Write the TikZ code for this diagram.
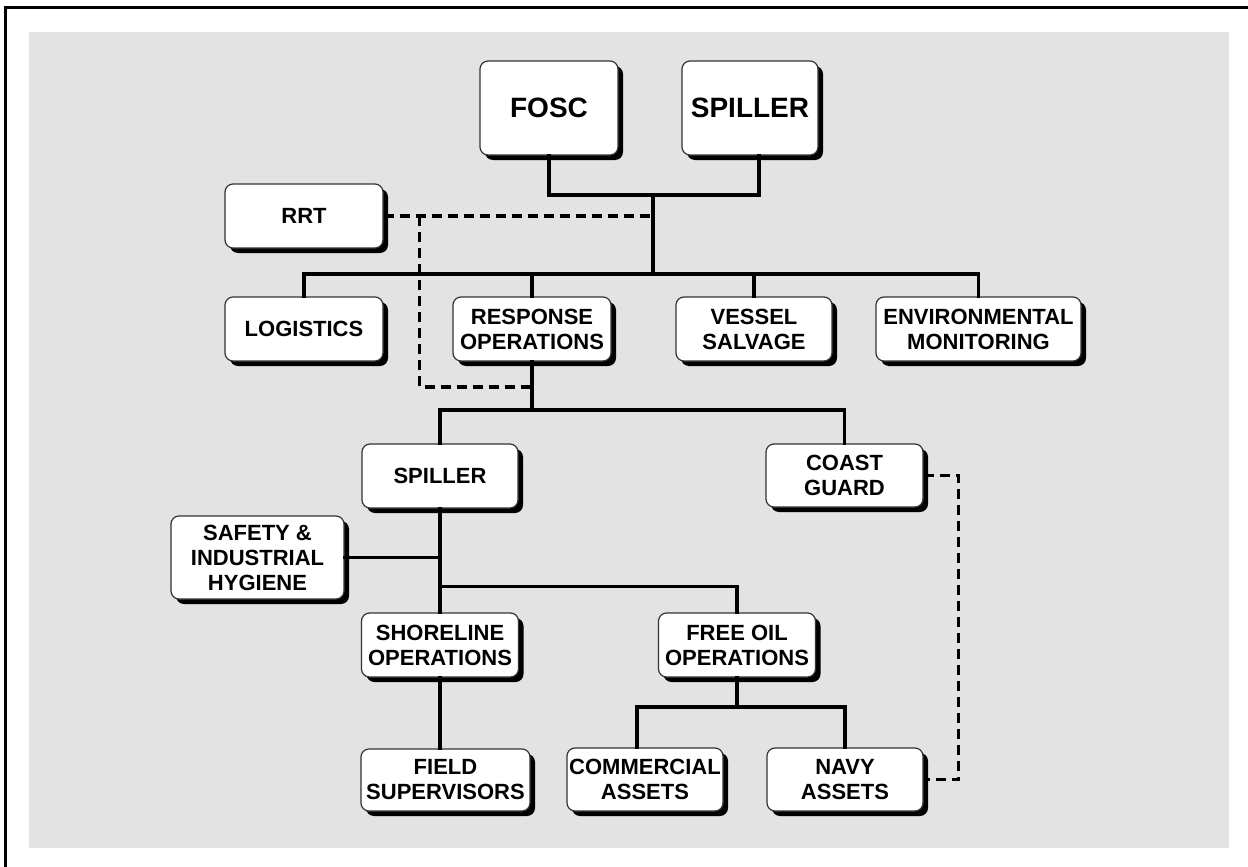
\documentclass[tikz,border=0pt]{standalone}
\usepackage{fontspec}
\setmainfont{Liberation Sans}
\usetikzlibrary{shadows}
\definecolor{bggray}{HTML}{E3E3E3}
\begin{document}
\begin{tikzpicture}[x=1pt,y=-1pt,
  box/.style={draw=black!80, line width=1.2pt, fill=white, rounded corners=8pt,
    align=center, inner sep=1pt, font=\bfseries\fontsize{22}{25}\selectfont,
    drop shadow={shadow xshift=5pt, shadow yshift=-5pt, fill=black, opacity=1}},
  bigbox/.style={box, font=\bfseries\fontsize{28}{30}\selectfont},
  conn/.style={line width=3.3pt, line cap=rect},
  dashline/.style={line width=3.6pt, dash pattern=on 10pt off 6pt}]
\useasboundingbox (0,0) rectangle (1248,867);
% frame
\fill[bggray] (29,32) rectangle (1229,848);
\draw[line width=3pt] (5.5,867) -- (5.5,7.5) -- (1248,7.5);
% nodes
\node[bigbox, minimum width=138pt, minimum height=94pt] (fosc) at (549,108) {FOSC};
\node[bigbox, minimum width=136pt, minimum height=94pt] (spilA) at (750,108) {SPILLER};
\node[box, minimum width=158pt, minimum height=64pt] (rrt) at (304,216) {RRT};
\node[box, minimum width=158pt, minimum height=64pt] (log) at (304,329) {LOGISTICS};
\node[box, minimum width=158pt, minimum height=64pt] (resp) at (532,329) {RESPONSE\\OPERATIONS};
\node[box, minimum width=156pt, minimum height=64pt] (vessel) at (754,329) {VESSEL\\SALVAGE};
\node[box, minimum width=205pt, minimum height=64pt] (env) at (978.5,329) {ENVIRONMENTAL\\MONITORING};
\node[box, minimum width=156pt, minimum height=64pt] (spilB) at (440,476) {SPILLER};
\node[box, minimum width=157pt, minimum height=63pt] (coast) at (844.5,475.5) {COAST\\GUARD};
\node[box, minimum width=173pt, minimum height=83pt] (safety) at (257.5,557.5) {SAFETY \&\\INDUSTRIAL\\HYGIENE};
\node[box, minimum width=157pt, minimum height=64pt] (shore) at (440,645) {SHORELINE\\OPERATIONS};
\node[box, minimum width=157pt, minimum height=64pt] (free) at (737,645) {FREE OIL\\OPERATIONS};
\node[box, minimum width=169pt, minimum height=62pt] (field) at (445.5,780) {FIELD\\SUPERVISORS};
\node[box, minimum width=156pt, minimum height=63pt] (comm) at (645,779.5) {COMMERCIAL\\ASSETS};
\node[box, minimum width=156pt, minimum height=63pt] (navy) at (845,779.5) {NAVY\\ASSETS};
% junction coordinates
\coordinate (top) at (653,195);
\coordinate (bus) at (653,274);
\coordinate (rj) at (532,387);
\coordinate (bus2) at (532,410);
\coordinate (b4) at (737,707);
% connectors
\draw[conn] (fosc.south) |- (top) -| ([xshift=9pt]spilA.south);
\draw[conn] (top) -- (bus);
\draw[conn] (log.north) |- (bus) -| (env.north);
\draw[conn] (resp.north) -- (resp.north |- bus);
\draw[conn] (vessel.north) -- (vessel.north |- bus);
\draw[conn] (resp.south) -- (bus2);
\draw[conn] (spilB.north) |- (bus2) -| (coast.north);
\draw[conn] (spilB.south) -- (shore.north);
\draw[conn] (safety.east) -- (safety.east -| spilB.south);
\draw[conn] ([yshift=26pt]shore.north) -| (free.north);
\draw[conn] (shore.south) -- (shore.south |- field.north);
\draw[conn] (free.south) -- (b4);
\draw[conn] ([xshift=-8pt]comm.north) |- (b4) -| (navy.north);
% dashed connectors
\draw[dashline] (rrt.east) -- (rrt.east -| top);
\draw[dashline] ([xshift=36pt]rrt.east) |- (rj);
\draw[dashline] (coast.east) -| ([xshift=35pt]navy.east) -- (navy.east);
\end{tikzpicture}
\end{document}
